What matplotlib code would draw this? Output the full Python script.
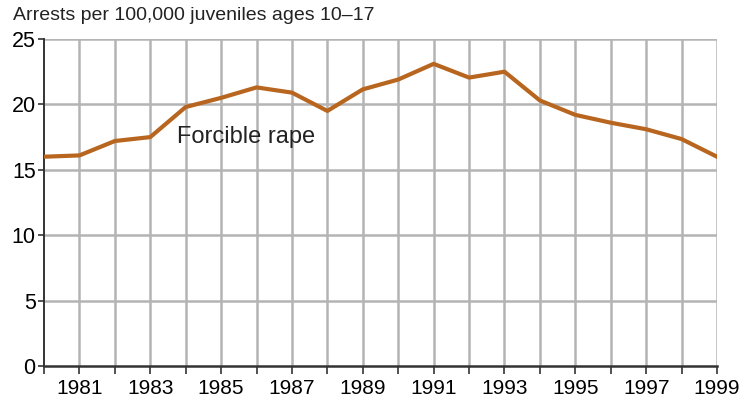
import matplotlib.pyplot as plt
import numpy as np

years = list(range(1980, 2000))
rate = [16.0, 16.1, 17.2, 17.5, 19.8, 20.5, 21.3, 20.9, 19.5, 21.15,
        21.9, 23.1, 22.05, 22.5, 20.3, 19.2, 18.6, 18.1, 17.35, 16.0]
xtick_years = list(range(1981, 2000, 2))
yticks = [0, 5, 10, 15, 20, 25]

plt.rcParams['font.family'] = ['Liberation Sans', 'DejaVu Sans']

fig = plt.figure(figsize=(7.51, 4.0), dpi=100)
ax = fig.add_axes([44 / 751, 34 / 400, (717 - 44) / 751, (366 - 39) / 400])

# year gridlines and 5-unit horizontal lines
for yr in years[1:]:
    ax.axvline(yr, color='#b4b4b4', lw=1.8, zorder=1)
for v in yticks[1:]:
    ax.axhline(v, color='#b4b4b4', lw=1.8, zorder=1)

ax.plot(years, rate, color='#b8661f', lw=3.0, zorder=3, solid_joinstyle='round')
ax.text(1983.75, 17.5, 'Forcible rape', fontsize=17, color='#222222',
        va='center', zorder=4)

ax.set_xlim(1980, 1999)
ax.set_ylim(0, 25)
ax.set_yticks(yticks)
ax.set_xticks(years, minor=True)
ax.set_xticks(xtick_years)
ax.tick_params(axis='x', which='both', length=6, width=1.2, direction='out',
               color='#333333', labelsize=15, pad=3)
ax.tick_params(axis='y', length=4, width=1.2, direction='out', color='#333333',
               labelsize=15.5, pad=2)
ax.tick_params(axis='x', which='minor', length=6)
for s in ['top', 'right']:
    ax.spines[s].set_visible(False)
ax.spines['left'].set_color('#333333')
ax.spines['bottom'].set_color('#333333')
ax.spines['left'].set_linewidth(1.4)
ax.spines['bottom'].set_linewidth(1.8)

fig.text(13 / 751, 1 - 16 / 400, 'Arrests per 100,000 juveniles ages 10\u201317',
         fontsize=14, color='#222222', va='center', ha='left')

fig.savefig('out.png', dpi=100)
